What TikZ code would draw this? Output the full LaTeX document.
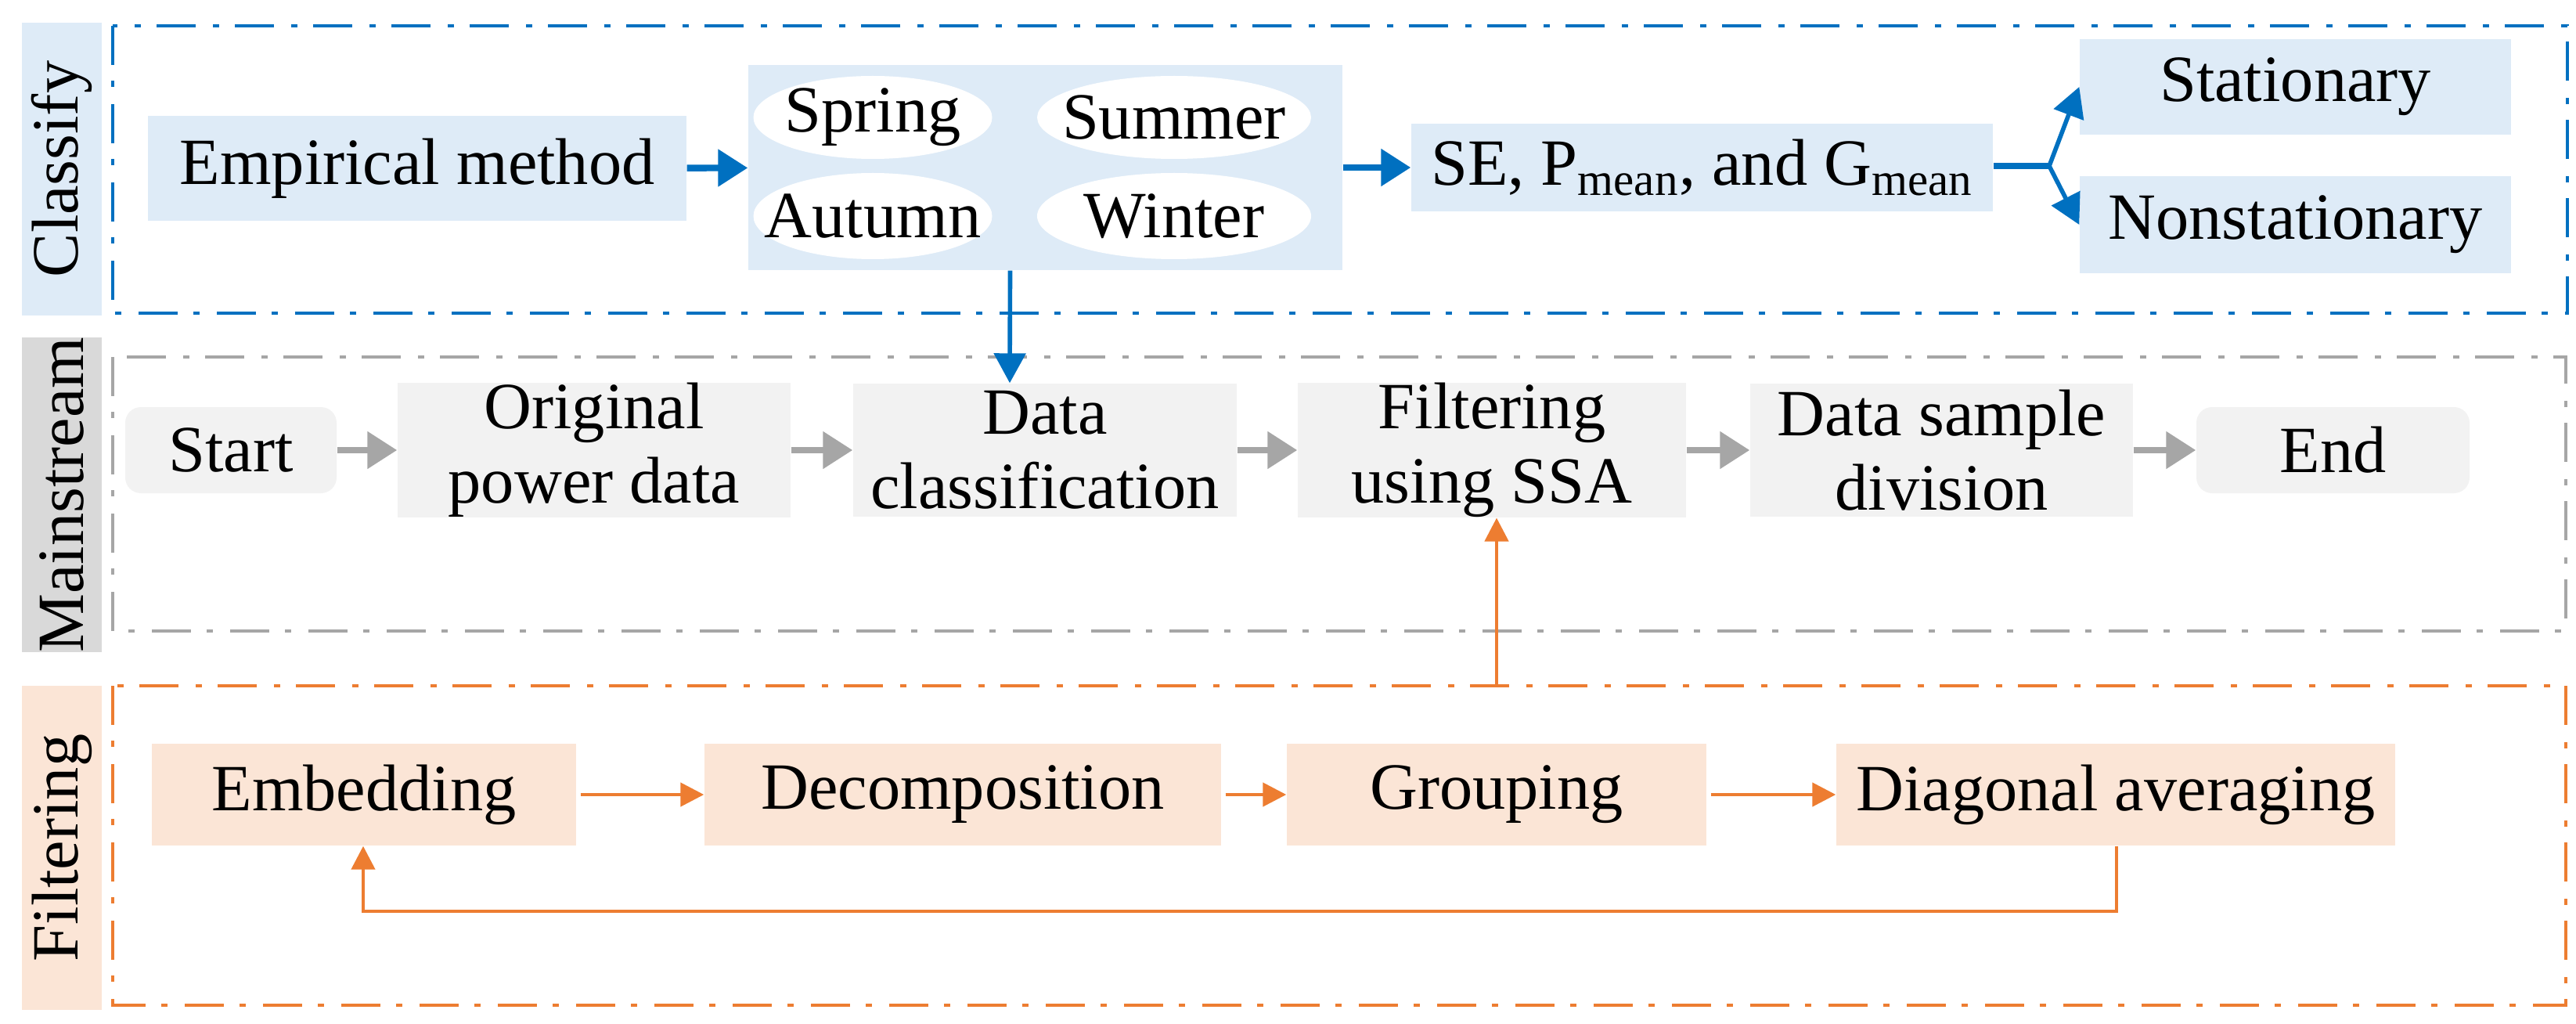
\documentclass[tikz,border=0pt]{standalone}
\usepackage{fontspec}
\setmainfont{Liberation Serif}
\usetikzlibrary{arrows.meta,shapes.geometric}
\definecolor{cblue}{HTML}{0070C0}
\definecolor{lblue}{HTML}{DEEBF7}
\definecolor{lgray}{HTML}{F2F2F2}
\definecolor{mgray}{HTML}{D9D9D9}
\definecolor{dgray}{HTML}{A6A6A6}
\definecolor{corange}{HTML}{ED7D31}
\definecolor{lorange}{HTML}{FBE5D6}
\begin{document}
\begin{tikzpicture}[
  every node/.style={font=\fontsize{24}{27}\selectfont, inner sep=0pt, align=center},
  box/.style={minimum width=#1, draw=none},
  gbox/.style={box=#1, fill=lgray, minimum height=1.7cm},
  obox/.style={box=#1, fill=lorange, minimum height=1.3cm},
  ell/.style={ellipse, fill=white, minimum width=#1, minimum height=1.06cm},
  frame/.style={line width=1.2pt, dash pattern=on 0.5cm off 0.2cm on 0.08cm off 0.22cm},
  bar/.style={minimum height=1.02cm},
  barr/.style={line width=2.4pt, -{Triangle[length=0.38cm,width=0.46cm]}, draw=cblue},
  garr/.style={line width=2.4pt, -{Triangle[length=0.38cm,width=0.46cm]}, draw=dgray},
  oarr/.style={line width=1.3pt, -{Triangle[length=0.3cm,width=0.3cm]}, draw=corange},
]
\useasboundingbox (0,0) rectangle (32.91,-13.08);
% bars
\node[bar, fill=lblue, minimum width=3.74cm, rotate=90] (lc) at (0.79,-2.16) {Classify};
\node[bar, fill=mgray, minimum width=3.52cm, rotate=90] (lm) at (0.79,-6.32) {Mainstream};
\node[bar, fill=lorange, minimum width=4.14cm, rotate=90] (lf) at (0.79,-10.83) {Filtering};
% frames
\draw[frame, cblue] (1.44,-0.33) rectangle (32.80,-4.00);
\draw[frame, dgray] (1.44,-4.56) rectangle (32.78,-8.06);
\draw[frame, corange] (1.44,-8.76) rectangle (32.78,-12.84);
% classify
\node[box=6.88cm, fill=lblue, minimum height=1.34cm] (emp) at (5.33,-2.15) {Empirical method};
\node[box=7.59cm, fill=lblue, minimum height=2.62cm] (seas) at (13.355,-2.14) {};
\node[ell=3.05cm, label={center:Spring}] (spr) at (11.15,-1.5) {};
\node[ell=3.5cm, label={center:Summer}] (sum) at (15.0,-1.5) {};
\node[ell=3.05cm, minimum height=1.1cm, label={center:Autumn}] (aut) at (11.15,-2.76) {};
\node[ell=3.5cm, minimum height=1.1cm, label={center:Winter}] (win) at (15.0,-2.76) {};
\node[box=7.43cm, fill=lblue, minimum height=1.12cm] (se) at (21.745,-2.14) {SE, P\textsubscript{mean}, and G\textsubscript{mean}};
\node[box=5.51cm, fill=lblue, minimum height=1.22cm] (sta) at (29.325,-1.11) {Stationary};
\node[box=5.51cm, fill=lblue, minimum height=1.24cm] (non) at (29.325,-2.87) {Nonstationary};
\coordinate (fork) at (26.18,-2.12);
\draw[barr] (emp) -- (seas);
\draw[barr] (seas) -- (se);
\draw[line width=2.4pt, draw=cblue] (se.east |- fork) -- (fork);
\draw[line width=1.6pt, draw=cblue, -{Triangle[length=0.38cm,width=0.4cm]}] (fork) -- (sta.west);
\draw[line width=1.6pt, draw=cblue, -{Triangle[length=0.38cm,width=0.4cm]}] (fork) -- (non.west);
% mainstream
\node[box=2.7cm, fill=lgray, minimum height=1.1cm, rounded corners=0.2cm] (start) at (2.95,-5.75) {Start};
\node[gbox=5.02cm] (opd) at (7.59,-5.75) {Original\\power data};
\node[gbox=4.9cm] (dc) at (13.35,-5.75) {Data\\classification};
\node[gbox=4.96cm] (fus) at (19.06,-5.75) {Filtering\\using SSA};
\node[gbox=4.89cm] (dsd) at (24.805,-5.75) {Data sample\\division};
\node[box=3.49cm, fill=lgray, minimum height=1.1cm, rounded corners=0.2cm] (end) at (29.805,-5.75) {End};
\draw[garr] (start) -- (opd);
\draw[garr] (opd) -- (dc);
\draw[garr] (dc) -- (fus);
\draw[garr] (fus) -- (dsd);
\draw[garr] (dsd) -- (end);
\draw[line width=1.6pt, draw=cblue, -{Triangle[length=0.38cm,width=0.4cm]}] ([xshift=-0.45cm]seas.south) -- ([xshift=-0.45cm]dc.north);
% filtering
\node[obox=5.42cm] (emb) at (4.65,-10.15) {Embedding};
\node[obox=6.6cm] (dec) at (12.3,-10.15) {Decomposition};
\node[obox=5.36cm] (grp) at (19.12,-10.15) {Grouping};
\node[obox=7.14cm] (dia) at (27.03,-10.15) {Diagonal averaging};
\draw[oarr, shorten <=0.05cm] (emb) -- (dec);
\draw[oarr, shorten <=0.05cm] (dec) -- (grp);
\draw[oarr, shorten <=0.05cm] (grp) -- (dia);
\coordinate (ftop) at (19.12,-8.76);
\draw[oarr] (ftop) -- (ftop |- fus.south);
\coordinate (lr) at (27.04,-11.64);
\coordinate (ll) at (4.64,-11.64);
\draw[oarr] (dia.south -| lr) -- (lr) -- (ll) -- (ll |- emb.south);
\end{tikzpicture}
\end{document}
